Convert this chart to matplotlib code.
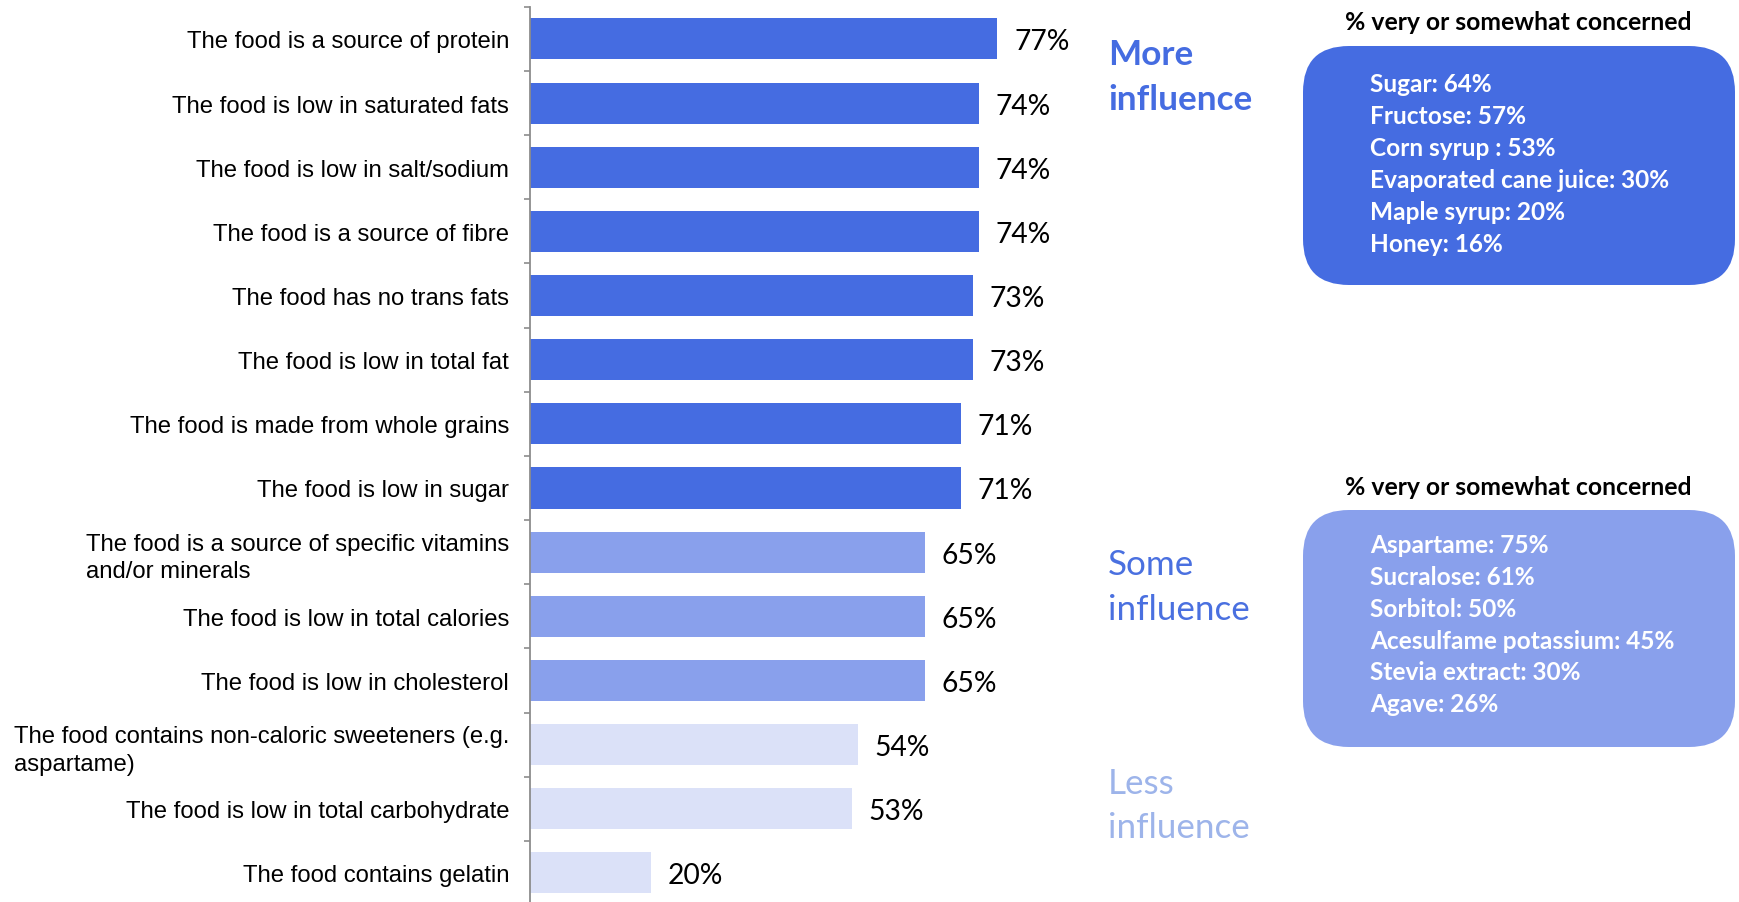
import matplotlib
matplotlib.use("Agg")
import matplotlib.pyplot as plt
from matplotlib.patches import FancyBboxPatch

# Данные
factors = [
    "The food is a source of protein",
    "The food is low in saturated fats",
    "The food is low in salt/sodium",
    "The food is a source of fibre",
    "The food has no trans fats",
    "The food is low in total fat",
    "The food is made from whole grains",
    "The food is low in sugar",
    "The food is a source of specific vitamins\nand/or minerals",
    "The food is low in total calories",
    "The food is low in cholesterol",
    "The food contains non-caloric sweeteners (e.g.\naspartame)",
    "The food is low in total carbohydrate",
    "The food contains gelatin",
]
values = [77, 74, 74, 74, 73, 73, 71, 71, 65, 65, 65, 54, 53, 20]
levels = ["more"] * 8 + ["some"] * 3 + ["less"] * 3

sugars = ["Sugar: 64%", "Fructose: 57%", "Corn syrup : 53%",
          "Evaporated cane juice: 30%", "Maple syrup: 20%", "Honey: 16%"]
sweeteners = ["Aspartame: 75%", "Sucralose: 61%", "Sorbitol: 50%",
              "Acesulfame potassium: 45%", "Stevia extract: 30%", "Agave: 26%"]
box_title = "% very or somewhat concerned"

colors = {"more": "#456CE1", "some": "#89A0EC", "less": "#DBE1F8"}

W, H = 1739, 903
fig = plt.figure(figsize=(W / 100, H / 100), dpi=100)

# Основная диаграмма
ax = fig.add_axes([530 / W, 1 - (7.8 + 14 * 64.16) / H, 607 / W, 14 * 64.16 / H])
y = list(range(len(values)))
ax.barh(y, values, height=0.64, color=[colors[l] for l in levels])
ax.set_xlim(0, 100)
ax.set_ylim(len(values) - 0.5, -0.5)

for yi, v in zip(y, values):
    ax.annotate(f"{v}%", (v, yi), xytext=(12, -1.8), textcoords="offset points",
                va="center", ha="left", fontsize=20.3, family="Lato", color="black")

ax.set_yticks(y)
ax.set_yticklabels(factors, fontsize=17.2, family="Liberation Sans")
for t in ax.get_yticklabels():
    t.set_multialignment("left")
    t.set_linespacing(1.32)
ax.tick_params(axis="y", which="major", length=0, pad=15)
ax.set_yticks([i - 0.5 for i in range(len(values) + 1)], minor=True)
ax.tick_params(axis="y", which="minor", length=4.5, width=1.2, color="#8C8C8C")
ax.xaxis.set_visible(False)
for s in ["top", "right", "bottom"]:
    ax.spines[s].set_visible(False)
ax.spines["left"].set_color("#8C8C8C")
ax.spines["left"].set_linewidth(1.3)

# Правая часть - подписи и блоки (координаты в пикселях)
ov = fig.add_axes([0, 0, 1, 1])
ov.set_xlim(0, W)
ov.set_ylim(H, 0)
ov.axis("off")

ov.text(1108, 55, "More", fontsize=25.3, family="Lato", weight="bold",
        color="#456CE1", va="center")
ov.text(1108, 100, "influence", fontsize=25.3, family="Lato", weight="bold",
        color="#456CE1", va="center")
ov.text(1108, 565, "Some", fontsize=25.2, family="Lato",
        color="#4A70E0", va="center")
ov.text(1108, 610, "influence", fontsize=25.2, family="Lato",
        color="#4A70E0", va="center")
ov.text(1108, 784, "Less", fontsize=25.2, family="Lato",
        color="#9DB4EA", va="center")
ov.text(1108, 828, "influence", fontsize=25.2, family="Lato",
        color="#9DB4EA", va="center")

boxes = [(47, 286, 23, sugars, colors["more"], [84, 116, 148, 180.5, 213, 245]),
         (511, 748, 488, sweeteners, colors["some"], [545.5, 577.6, 609.7, 642, 673, 705])]
for top, bottom, ty, items, col, ys in boxes:
    p = FancyBboxPatch((1303, top), 432, bottom - top,
                       boxstyle="round,pad=0,rounding_size=46",
                       facecolor=col, edgecolor="none")
    ov.add_patch(p)
    ov.text(1518, ty, box_title, fontsize=17.8, family="Lato", weight="bold",
            ha="center", va="center", color="black")
    for yy, item in zip(ys, items):
        ov.text(1370, yy, item, fontsize=17.6, family="Lato", weight="bold",
                ha="left", va="center", color="white")

fig.savefig("out.png", dpi=100)
